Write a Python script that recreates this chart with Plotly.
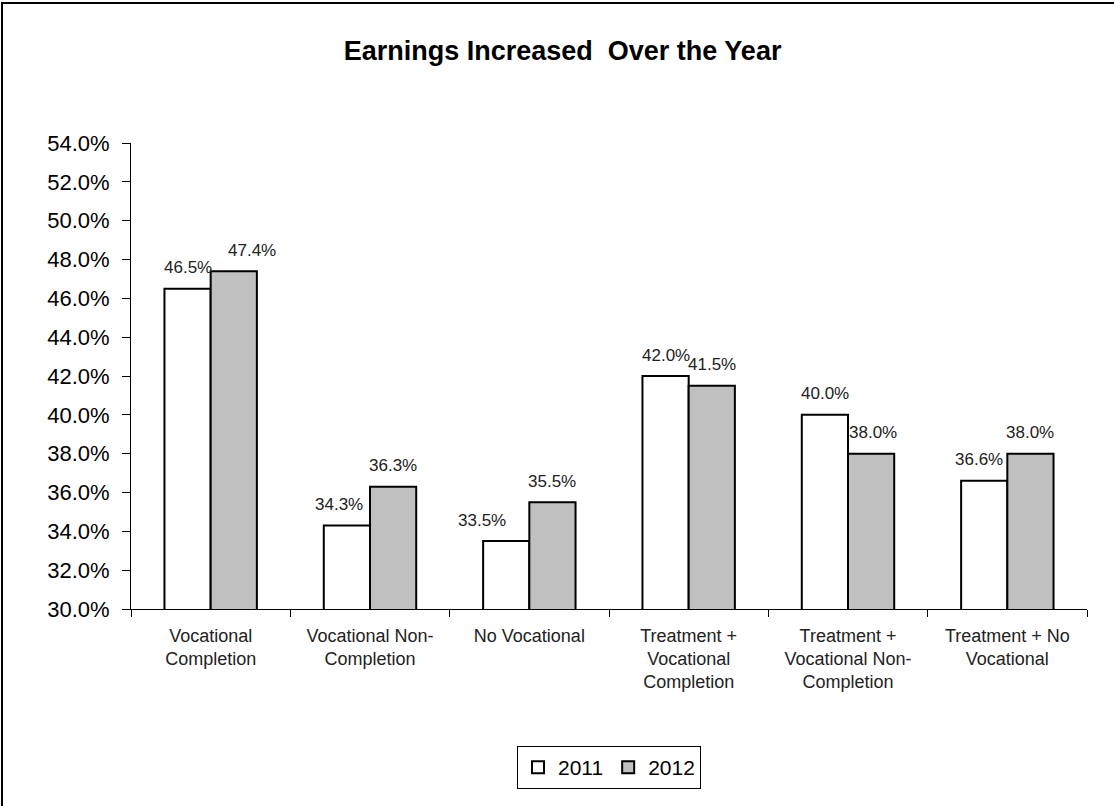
import plotly.graph_objects as go

categories = [
    "Vocational<br>Completion",
    "Vocational Non-<br>Completion",
    "No Vocational",
    "Treatment +<br>Vocational<br>Completion",
    "Treatment +<br>Vocational Non-<br>Completion",
    "Treatment + No<br>Vocational",
]
values_2011 = [46.5, 34.3, 33.5, 42.0, 40.0, 36.6]
values_2012 = [47.4, 36.3, 35.5, 41.5, 38.0, 38.0]
y_ticks = [30, 32, 34, 36, 38, 40, 42, 44, 46, 48, 50, 52, 54]

# label nudges (px) relative to the bar centre, as Excel placed them
dx_2011 = [0, -8, -24, 0, 0, -5]
dx_2012 = [18, 0, 0, 0, 2, 0]

W, H = 1114, 806
L, R, T, B = 131, 27, 143, 197
pw, ph = W - L - R, H - T - B
bar_px = 46  # half of a group

fig = go.Figure()
fig.add_trace(go.Bar(
    x=categories, y=values_2011, name="2011",
    marker=dict(color="white", line=dict(color="black", width=2)),
))
fig.add_trace(go.Bar(
    x=categories, y=values_2012, name="2012",
    marker=dict(color="#c0c0c0", line=dict(color="black", width=2)),
))

# data labels
for cat, v, dx in zip(categories, values_2011, dx_2011):
    fig.add_annotation(x=cat, y=v, text=f"{v:.1f}%", showarrow=False,
                       xshift=-bar_px / 2 + dx, yshift=21,
                       font=dict(size=17, color="#222"))
for cat, v, dx in zip(categories, values_2012, dx_2012):
    fig.add_annotation(x=cat, y=v, text=f"{v:.1f}%", showarrow=False,
                       xshift=bar_px / 2 + dx, yshift=21,
                       font=dict(size=17, color="#222"))

# outer border (only top and left edges are inside the picture)
fig.add_shape(type="rect", xref="paper", yref="paper",
              x0=(2 - L) / pw, x1=(W + 20 - L) / pw,
              y0=-(B + 20) / ph, y1=(H - B - 3) / ph,
              line=dict(color="black", width=2))

fig.update_layout(
    width=W, height=H,
    margin=dict(l=L, r=R, t=T, b=B),
    paper_bgcolor="white", plot_bgcolor="white",
    font=dict(family="Arial, Liberation Sans, sans-serif", color="black"),
    title=dict(text="<b>Earnings Increased  Over the Year</b>", x=0.505, xref="container",
               xanchor="center", y=1 - 51 / H, yanchor="middle",
               font=dict(size=27, color="black")),
    barmode="group", bargap=0.42, bargroupgap=0,
    showlegend=True,
    legend=dict(orientation="h", x=0.5, xanchor="center", y=-137 / ph, yanchor="top",
                bordercolor="black", borderwidth=1, font=dict(size=21),
                itemwidth=30, tracegroupgap=0),
    xaxis=dict(showline=True, linecolor="black", linewidth=1, ticks="outside",
               tickson="boundaries", ticklen=7, tickcolor="black",
               ticklabelstandoff=10,
               tickfont=dict(size=18, color="#222"), showgrid=False),
    yaxis=dict(range=[30, 54], tickvals=y_ticks,
               ticktext=[f"{v:.1f}%" for v in y_ticks],
               showline=True, linecolor="black", linewidth=1, ticks="outside",
               ticklen=8, tickcolor="black", ticklabelstandoff=8,
               tickfont=dict(size=22, color="black"),
               showgrid=False, zeroline=False),
)

fig.write_html("out.html", config={"displayModeBar": False},
               post_script="document.body.style.margin='0';")
